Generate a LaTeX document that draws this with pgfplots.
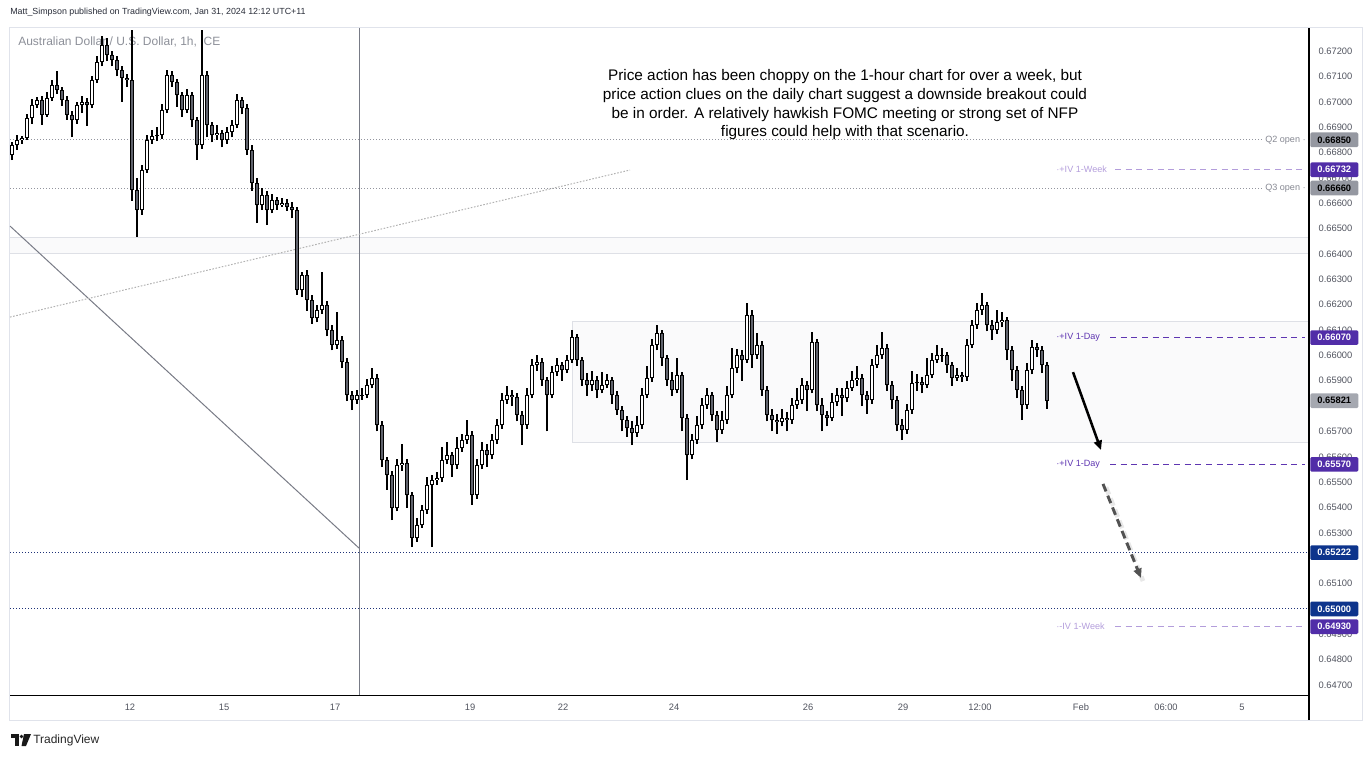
\documentclass[border=0pt]{standalone}
\usepackage{pgfplots}
\pgfplotsset{compat=1.18}
\usepackage{pgfplotstable}
\usepackage{fontspec}
\setmainfont{Liberation Sans}
\usetikzlibrary{arrows.meta}

\definecolor{tvgray}{RGB}{120,123,134}
\definecolor{axtxt}{RGB}{80,83,94}
\definecolor{hdr}{RGB}{40,44,56}
\definecolor{ivdark}{RGB}{94,53,177}
\definecolor{ivlight}{RGB}{179,157,219}
\definecolor{tagpurple}{RGB}{81,45,168}
\definecolor{tagnavy}{RGB}{13,52,140}
\definecolor{taggray}{RGB}{149,152,161}
\definecolor{taglight}{RGB}{165,168,176}
\definecolor{navy}{RGB}{30,50,120}
\definecolor{candlegray}{RGB}{95,98,108}
\definecolor{framegray}{RGB}{224,227,235}
\definecolor{boxfill}{RGB}{250,250,251}
\definecolor{boxline}{RGB}{222,224,230}

\pgfplotstableread{
x o h l c
12 0.66790 0.66841 0.66770 0.66829
17 0.66829 0.66869 0.66811 0.66849
22 0.66849 0.66865 0.66835 0.66857
27 0.66857 0.66952 0.66849 0.66936
32 0.66936 0.67011 0.66914 0.66987
37 0.66987 0.67017 0.66975 0.67007
42 0.67007 0.67021 0.66910 0.66948
47 0.66948 0.67039 0.66940 0.67015
52 0.67015 0.67086 0.67003 0.67066
57 0.67066 0.67120 0.67030 0.67046
62 0.67046 0.67060 0.66985 0.67007
67 0.67007 0.67021 0.66930 0.66948
72 0.66948 0.66964 0.66860 0.66928
77 0.66928 0.67001 0.66914 0.66987
82 0.66987 0.67023 0.66955 0.66999
87 0.66999 0.67013 0.66905 0.66987
92 0.66987 0.67100 0.66975 0.67086
97 0.67086 0.67181 0.67074 0.67157
102 0.67157 0.67260 0.67140 0.67224
107 0.67224 0.67250 0.67160 0.67184
112 0.67184 0.67200 0.67140 0.67164
117 0.67164 0.67180 0.67100 0.67125
122 0.67125 0.67140 0.67000 0.67093
127 0.67093 0.67110 0.67060 0.67086
132 0.67086 0.67283 0.66610 0.66652
137 0.66652 0.66700 0.66467 0.66573
142 0.66573 0.66750 0.66555 0.66731
147 0.66731 0.66870 0.66720 0.66849
152 0.66849 0.66890 0.66835 0.66865
157 0.66865 0.66900 0.66845 0.66869
162 0.66869 0.66990 0.66855 0.66967
167 0.66967 0.67125 0.66955 0.67105
172 0.67105 0.67120 0.67060 0.67078
177 0.67078 0.67090 0.66980 0.67026
182 0.67026 0.67040 0.66940 0.66967
187 0.66967 0.67050 0.66955 0.67026
192 0.67026 0.67040 0.66900 0.66928
197 0.66928 0.66940 0.66770 0.66829
202 0.66829 0.67283 0.66815 0.67105
207 0.67105 0.67120 0.66860 0.66908
212 0.66908 0.66920 0.66840 0.66869
217 0.66869 0.66910 0.66850 0.66877
222 0.66877 0.66890 0.66820 0.66849
227 0.66849 0.66900 0.66835 0.66881
232 0.66881 0.66930 0.66860 0.66908
237 0.66908 0.67030 0.66895 0.67007
242 0.67007 0.67020 0.66950 0.66975
247 0.66975 0.66990 0.66790 0.66810
252 0.66810 0.66830 0.66650 0.66679
257 0.66679 0.66700 0.66522 0.66593
262 0.66593 0.66660 0.66575 0.66632
267 0.66632 0.66650 0.66514 0.66573
272 0.66573 0.66635 0.66560 0.66612
277 0.66612 0.66625 0.66575 0.66593
282 0.66593 0.66620 0.66585 0.66601
287 0.66601 0.66615 0.66570 0.66585
292 0.66585 0.66605 0.66540 0.66573
297 0.66573 0.66585 0.66240 0.66257
302 0.66257 0.66330 0.66230 0.66317
307 0.66317 0.66335 0.66175 0.66218
312 0.66218 0.66240 0.66125 0.66147
317 0.66147 0.66200 0.66130 0.66179
322 0.66179 0.66329 0.66165 0.66198
327 0.66198 0.66215 0.66075 0.66100
332 0.66100 0.66120 0.66020 0.66041
337 0.66041 0.66171 0.66025 0.66060
342 0.66060 0.66075 0.65950 0.65974
347 0.65974 0.65990 0.65820 0.65843
352 0.65843 0.65860 0.65784 0.65824
357 0.65824 0.65865 0.65810 0.65843
362 0.65843 0.65870 0.65825 0.65843
367 0.65843 0.65905 0.65830 0.65883
372 0.65883 0.65950 0.65870 0.65910
377 0.65910 0.65925 0.65700 0.65725
382 0.65725 0.65740 0.65560 0.65587
387 0.65587 0.65600 0.65470 0.65528
392 0.65528 0.65545 0.65350 0.65398
397 0.65398 0.65590 0.65385 0.65567
402 0.65567 0.65650 0.65545 0.65575
407 0.65575 0.65590 0.65400 0.65449
412 0.65449 0.65460 0.65244 0.65280
417 0.65280 0.65360 0.65265 0.65331
422 0.65331 0.65410 0.65320 0.65390
427 0.65390 0.65520 0.65375 0.65489
432 0.65489 0.65530 0.65244 0.65508
437 0.65508 0.65540 0.65490 0.65516
442 0.65516 0.65640 0.65500 0.65587
447 0.65587 0.65660 0.65570 0.65607
452 0.65607 0.65620 0.65520 0.65567
457 0.65567 0.65680 0.65550 0.65634
462 0.65634 0.65690 0.65620 0.65666
467 0.65666 0.65745 0.65650 0.65686
472 0.65686 0.65700 0.65410 0.65449
477 0.65449 0.65590 0.65435 0.65567
482 0.65567 0.65660 0.65550 0.65627
487 0.65627 0.65650 0.65560 0.65607
492 0.65607 0.65690 0.65590 0.65666
497 0.65666 0.65750 0.65650 0.65725
502 0.65725 0.65850 0.65710 0.65824
507 0.65824 0.65880 0.65810 0.65843
512 0.65843 0.65865 0.65800 0.65836
517 0.65836 0.65850 0.65740 0.65765
522 0.65765 0.65780 0.65646 0.65725
527 0.65725 0.65870 0.65710 0.65843
532 0.65843 0.65985 0.65830 0.65962
537 0.65962 0.66000 0.65940 0.65974
542 0.65974 0.65990 0.65880 0.65903
547 0.65903 0.65915 0.65700 0.65843
552 0.65843 0.65960 0.65830 0.65934
557 0.65934 0.65990 0.65920 0.65962
562 0.65962 0.65975 0.65900 0.65942
567 0.65942 0.66000 0.65930 0.65981
572 0.65981 0.66100 0.65970 0.66072
577 0.66072 0.66085 0.65960 0.65981
582 0.65981 0.65995 0.65880 0.65903
587 0.65903 0.65930 0.65840 0.65883
592 0.65883 0.65940 0.65860 0.65903
597 0.65903 0.65920 0.65830 0.65863
602 0.65863 0.65935 0.65850 0.65883
607 0.65883 0.65925 0.65870 0.65903
612 0.65903 0.65915 0.65810 0.65843
617 0.65843 0.65860 0.65765 0.65784
622 0.65784 0.65800 0.65700 0.65745
627 0.65745 0.65760 0.65680 0.65713
632 0.65713 0.65740 0.65646 0.65694
637 0.65694 0.65760 0.65680 0.65725
642 0.65725 0.65870 0.65710 0.65843
647 0.65843 0.65960 0.65830 0.65910
652 0.65910 0.66065 0.65895 0.66041
657 0.66041 0.66120 0.66020 0.66088
662 0.66088 0.66100 0.65960 0.65989
667 0.65989 0.66000 0.65880 0.65903
672 0.65903 0.65935 0.65840 0.65863
677 0.65863 0.65990 0.65850 0.65922
682 0.65922 0.65935 0.65700 0.65753
687 0.65753 0.65770 0.65508 0.65607
692 0.65607 0.65690 0.65590 0.65666
697 0.65666 0.65760 0.65650 0.65725
702 0.65725 0.65830 0.65710 0.65804
707 0.65804 0.65870 0.65790 0.65843
712 0.65843 0.65855 0.65740 0.65765
717 0.65765 0.65780 0.65660 0.65705
722 0.65705 0.65780 0.65690 0.65745
727 0.65745 0.65880 0.65730 0.65843
732 0.65843 0.66030 0.65830 0.65950
737 0.65950 0.66025 0.65930 0.66001
742 0.66001 0.66020 0.65900 0.65981
747 0.65981 0.66206 0.65970 0.66159
752 0.66159 0.66180 0.65950 0.66001
757 0.66001 0.66090 0.65985 0.66041
762 0.66041 0.66055 0.65840 0.65863
767 0.65863 0.65880 0.65740 0.65765
772 0.65765 0.65790 0.65700 0.65745
777 0.65745 0.65770 0.65690 0.65737
782 0.65737 0.65790 0.65720 0.65753
787 0.65753 0.65775 0.65700 0.65745
792 0.65745 0.65830 0.65730 0.65804
797 0.65804 0.65870 0.65790 0.65824
802 0.65824 0.65910 0.65810 0.65883
807 0.65883 0.65900 0.65780 0.65863
812 0.65863 0.66092 0.65850 0.66052
817 0.66052 0.66065 0.65780 0.65804
822 0.65804 0.65830 0.65700 0.65765
827 0.65765 0.65780 0.65720 0.65753
832 0.65753 0.65850 0.65740 0.65816
837 0.65816 0.65870 0.65800 0.65843
842 0.65843 0.65870 0.65760 0.65832
847 0.65832 0.65900 0.65815 0.65871
852 0.65871 0.65940 0.65860 0.65903
857 0.65903 0.65960 0.65880 0.65910
862 0.65910 0.65925 0.65800 0.65843
867 0.65843 0.65860 0.65770 0.65824
872 0.65824 0.65985 0.65810 0.65962
877 0.65962 0.66040 0.65950 0.66001
882 0.66001 0.66092 0.65985 0.66029
887 0.66029 0.66045 0.65860 0.65883
892 0.65883 0.65900 0.65790 0.65824
897 0.65824 0.65840 0.65700 0.65725
902 0.65725 0.65750 0.65666 0.65706
907 0.65706 0.65810 0.65690 0.65784
912 0.65784 0.65940 0.65770 0.65891
917 0.65891 0.65925 0.65860 0.65895
922 0.65895 0.65915 0.65850 0.65883
927 0.65883 0.65990 0.65870 0.65922
932 0.65922 0.66010 0.65910 0.65981
937 0.65981 0.66040 0.65970 0.66001
942 0.66001 0.66030 0.65975 0.66001
947 0.66001 0.66015 0.65930 0.65962
952 0.65962 0.65975 0.65880 0.65910
957 0.65910 0.65950 0.65900 0.65922
962 0.65922 0.65935 0.65895 0.65914
967 0.65914 0.66065 0.65900 0.66041
972 0.66041 0.66140 0.66030 0.66119
977 0.66119 0.66205 0.66105 0.66179
982 0.66179 0.66246 0.66160 0.66198
987 0.66198 0.66210 0.66095 0.66119
992 0.66119 0.66140 0.66060 0.66100
997 0.66100 0.66180 0.66085 0.66131
1002 0.66131 0.66170 0.66110 0.66139
1007 0.66139 0.66150 0.65980 0.66021
1012 0.66021 0.66035 0.65900 0.65942
1017 0.65942 0.65960 0.65830 0.65863
1022 0.65863 0.65880 0.65745 0.65804
1027 0.65804 0.65970 0.65790 0.65942
1032 0.65942 0.66060 0.65925 0.66033
1037 0.66033 0.66050 0.65995 0.66021
1042 0.66021 0.66035 0.65930 0.65962
1047 0.65962 0.65975 0.65790 0.65821
}\candles

\pgfplotsset{candlepart/.style={draw=none, mark=none, forget plot,
  error bars/.cd, y dir=plus, y explicit, error mark=none}}

\begin{document}
\begin{tikzpicture}
\path[use as bounding box] (0,0) rectangle (1028.25pt,-567.75pt);
\begin{scope}[x=0.75pt,y=-0.75pt]
\draw[framegray, line width=0.75pt] (9.5,27.5) rectangle (1362,720);
\node[anchor=west, inner sep=0pt, font=\fontsize{6.65}{8}\selectfont, text=hdr] at (10,12) {Matt\_Simpson published on TradingView.com, Jan 31, 2024 12:12 UTC+11};
\node[anchor=west, inner sep=0pt, font=\fontsize{9}{10}\selectfont, text=tvgray!85] at (18,42) {Australian Dollar / U.S. Dollar, 1h, ICE};
\end{scope}

\begin{axis}[
  at={(7.5pt,-521.25pt)}, anchor=south west,
  scale only axis, width=974.25pt, height=500.25pt,
  xmin=10, xmax=1309, ymin=0.646606, ymax=0.67291,
  clip=false,
  axis line style={draw=none},
  major tick length=0pt,
  xtick={130,224,335,470,563,674,808,903,980,1081,1166,1242},
  xticklabels={12,15,17,19,22,24,26,29,12:00,Feb,06:00,5},
  ytick={0.647,0.648,0.649,0.650,0.651,0.653,0.654,0.655,0.656,0.657,0.659,0.660,0.661,0.662,0.663,0.664,0.665,0.666,0.667,0.668,0.669,0.670,0.671,0.672},
  yticklabel pos=right,
  /pgf/number format/assume math mode=true,
  yticklabel style={/pgf/number format/fixed, /pgf/number format/fixed zerofill, /pgf/number format/precision=5, font=\fontsize{7}{8}\selectfont, text=axtxt, anchor=west, inner xsep=0pt, xshift=7pt},
  xticklabel style={font=\fontsize{7}{8}\selectfont, text=axtxt, anchor=north, yshift=-3pt},
]
% band and range box
\fill[boxfill] (axis cs:10,0.66403) rectangle (axis cs:1309,0.66466);
\draw[boxline, line width=0.75pt] (axis cs:10,0.66403) -- (axis cs:1309,0.66403);
\draw[boxline, line width=0.75pt] (axis cs:10,0.66466) -- (axis cs:1309,0.66466);
\fill[boxfill] (axis cs:572,0.65658) rectangle (axis cs:1309,0.66135);
\draw[boxline, line width=0.75pt] (axis cs:1309,0.66135) -- (axis cs:572,0.66135) -- (axis cs:572,0.65658) -- (axis cs:1309,0.65658);

% level lines
\addplot[tvgray!80, line width=0.75pt, dash pattern=on 0.75pt off 1.5pt, forget plot] coordinates {(10,0.6685) (1262,0.6685)};
\addplot[tvgray!80, line width=0.75pt, dash pattern=on 0.75pt off 1.5pt, forget plot] coordinates {(10,0.6666) (1262,0.6666)};
\addplot[navy, line width=0.75pt, dash pattern=on 0.75pt off 1.5pt, forget plot] coordinates {(10,0.65222) (1309,0.65222)};
\addplot[navy, line width=0.75pt, dash pattern=on 0.75pt off 1.5pt, forget plot] coordinates {(10,0.65) (1309,0.65)};
\addplot[ivlight, line width=0.75pt, dash pattern=on 4.5pt off 3.5pt, forget plot] coordinates {(1115,0.66732) (1305,0.66732)};
\addplot[ivdark, line width=0.75pt, dash pattern=on 4.5pt off 3.5pt, forget plot] coordinates {(1110,0.6607) (1305,0.6607)};
\addplot[ivdark, line width=0.75pt, dash pattern=on 4.5pt off 3.5pt, forget plot] coordinates {(1110,0.6557) (1305,0.6557)};
\addplot[ivlight, line width=0.75pt, dash pattern=on 4.5pt off 3.5pt, forget plot] coordinates {(1115,0.6493) (1305,0.6493)};

% drawing tools
\addplot[tvgray, line width=0.75pt, forget plot] coordinates {(359,0.67291) (359,0.646606)};
\addplot[tvgray, line width=0.75pt, forget plot] coordinates {(10,0.6651) (359,0.6524)};
\addplot[black!30, line width=0.75pt, dash pattern=on 1.2pt off 1.2pt, forget plot] coordinates {(10,0.66151) (630,0.66731)};

% candles: wicks
\addplot[candlepart, error bar style={draw=black, line width=0.85pt}]
  table[x=x, y=l, y error expr=\thisrow{h}-\thisrow{l}] {\candles};
% bodies outline
\addplot[candlepart, error bar style={draw=black, line width=3.2pt}]
  table[x=x, y expr={min(\thisrow{o},\thisrow{c})-0.00001}, y error expr={abs(\thisrow{c}-\thisrow{o})+0.00002}] {\candles};
% up bodies
\addplot[candlepart, error bar style={draw=white, line width=1.6pt}]
  table[x=x, y expr={\thisrow{o}+0.00003}, y error expr={max(\thisrow{c}-\thisrow{o}-0.00006,0)}] {\candles};
% down bodies
\addplot[candlepart, error bar style={draw=candlegray, line width=1.6pt}]
  table[x=x, y expr={\thisrow{c}+0.00003}, y error expr={max(\thisrow{o}-\thisrow{c}-0.00006,0)}] {\candles};

% arrows
\draw[black, line width=1.9pt, -{Triangle[length=7pt,width=6pt]}] (axis cs:1073,0.65934) -- (axis cs:1101,0.65627);
\draw[black!15, line width=3.5pt, dash pattern=on 6pt off 3pt, opacity=0.6] (axis cs:1106,0.65480) -- (axis cs:1143,0.65110);
\draw[black!68, line width=2.2pt, dash pattern=on 6pt off 3.5pt, -{Triangle[length=7pt,width=6pt]}] (axis cs:1103,0.65493) -- (axis cs:1141,0.65122);

% line labels
\node[anchor=east, inner sep=0pt, font=\fontsize{6.8}{8}\selectfont, text=tvgray!90] at (axis cs:1306,0.6685) {Q2 open $\cdot$};
\node[anchor=east, inner sep=0pt, font=\fontsize{6.8}{8}\selectfont, text=tvgray!90] at (axis cs:1306,0.6666) {Q3 open $\cdot$};
\node[anchor=west, inner sep=0pt, font=\fontsize{6.8}{8}\selectfont, text=ivlight] at (axis cs:1056,0.66732) {$\cdot$+IV 1-Week};
\node[anchor=west, inner sep=0pt, font=\fontsize{6.8}{8}\selectfont, text=ivdark] at (axis cs:1056,0.6607) {$\cdot$+IV 1-Day};
\node[anchor=west, inner sep=0pt, font=\fontsize{6.8}{8}\selectfont, text=ivdark] at (axis cs:1056,0.6557) {$\cdot$+IV 1-Day};
\node[anchor=west, inner sep=0pt, font=\fontsize{6.8}{8}\selectfont, text=ivlight] at (axis cs:1056,0.6493) {$\cdot$-IV 1-Week};

% price tags
\tikzset{tag/.style={anchor=west, inner sep=0pt, minimum width=36pt, minimum height=11pt, rounded corners=1pt, font=\bfseries\fontsize{7}{8}\selectfont}}
\node[tag, fill=taggray, text=black] at (axis cs:1310,0.6685) {0.66850};
\node[tag, fill=tagpurple, text=white] at (axis cs:1310,0.66732) {0.66732};
\node[tag, fill=taggray, text=black] at (axis cs:1310,0.6666) {0.66660};
\node[tag, fill=tagpurple, text=white] at (axis cs:1310,0.6607) {0.66070};
\node[tag, fill=taglight, text=black] at (axis cs:1310,0.65821) {0.65821};
\node[tag, fill=tagpurple, text=white] at (axis cs:1310,0.6557) {0.65570};
\node[tag, fill=tagnavy, text=white] at (axis cs:1310,0.65222) {0.65222};
\node[tag, fill=tagnavy, text=white] at (axis cs:1310,0.65) {0.65000};
\node[tag, fill=tagpurple, text=white] at (axis cs:1310,0.6493) {0.64930};
\end{axis}

\begin{scope}[x=0.75pt,y=-0.75pt]
\draw[black, line width=0.9pt] (10,695.5) -- (1309,695.5);
\draw[black, line width=0.9pt] (1309,28) -- (1309,720);
\node[align=center, inner sep=0pt, font=\fontsize{11.5}{14}\selectfont, text=black] at (845,105) {Price action has been choppy on the 1-hour chart for over a week, but\\price action clues on the daily chart suggest a downside breakout could\\be in order. A relatively hawkish FOMC meeting or strong set of NFP\\figures could help with that scenario.};
% TradingView logo
\fill[black!90] (11,734) rectangle (19,737.5);
\fill[black!90] (15,734) rectangle (19,746);
\fill[black!90] (21.5,736.5) circle (1.8);
\fill[black!90] (24,734) -- (31,734) -- (26,746) -- (21.5,746) -- cycle;
\node[anchor=west, inner sep=0pt, font=\fontsize{9}{10}\selectfont, text=black!85] at (33,740) {TradingView};
\end{scope}
\end{tikzpicture}
\end{document}
